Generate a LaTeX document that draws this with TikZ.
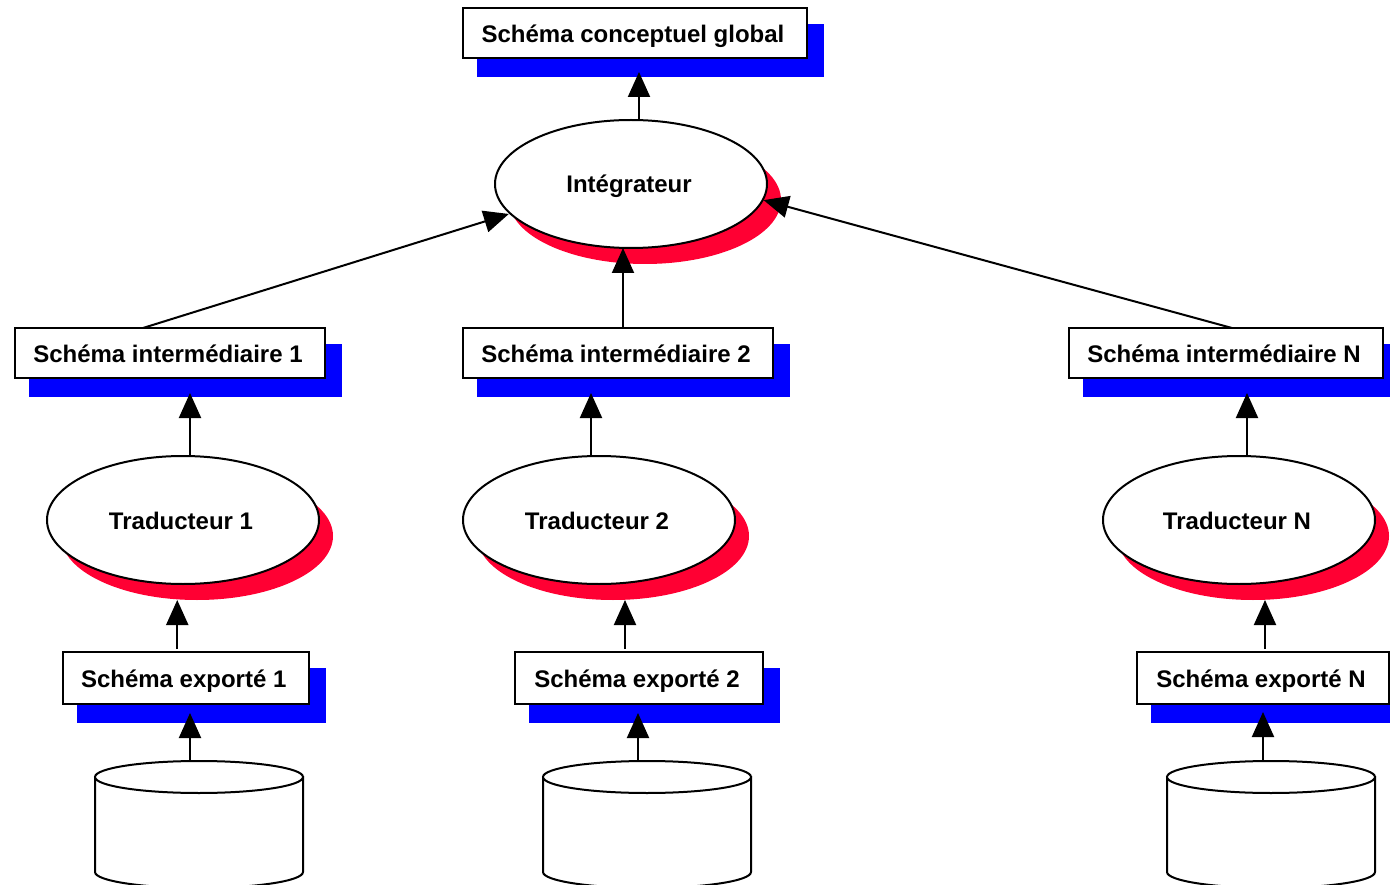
\documentclass[tikz,border=0pt]{standalone}
\usepackage{fontspec}
\setmainfont{Liberation Sans}
\usetikzlibrary{arrows.meta,shapes.geometric}
\definecolor{shadowblue}{RGB}{0,0,255}
\definecolor{shadowred}{RGB}{255,0,51}
\tikzset{
	every node/.style={outer sep=0pt},
	schema/.style={draw, fill=white, rectangle, inner sep=0pt, text height=19pt, text depth=0pt,
		font=\fontsize{24}{28}\selectfont\bfseries, execute at end node={\hspace{4pt}}},
	schema shadow/.style={fill=shadowblue, rectangle, inner sep=0pt, anchor=north west},
	process/.style={draw, fill=white, ellipse, inner sep=0pt, minimum width=272pt, minimum height=128pt,
		text height=18pt, text depth=0pt, font=\fontsize{24}{28}\selectfont\bfseries,
		execute at end node={\hspace{4pt}}},
	process shadow/.style={fill=shadowred, ellipse, inner sep=0pt, minimum width=272pt, minimum height=128pt},
	base top/.style={draw, fill=white, ellipse, inner sep=0pt, minimum width=208pt, minimum height=32pt}
}
\begin{document}
\begin{tikzpicture}[x=1pt, y=-1pt, line width=2pt, >={Triangle[length=25pt,width=22pt]}]
	
	\clip (0,0) rectangle (1390,885);
	
	\foreach \n/\x/\y/\w/\h/\l in {global/463/8/344/50/Schéma conceptuel global,
		inter-1/15/328/310/50/Schéma intermédiaire 1,
		inter-2/463/328/310/50/Schéma intermédiaire 2,
		inter-N/1069/328/314/50/Schéma intermédiaire N,
		exp-1/62.5/652/246.5/52/Schéma exporté 1,
		exp-2/515/652/248/52/Schéma exporté 2,
		exp-N/1137/652/252/52/Schéma exporté N}
	{
		\node [schema shadow, minimum width=\w+3, minimum height=\h+3] (\n-shadow) at (\x+14,\y+16) {};
		\node [schema, minimum width=\w, minimum height=\h] (\n) at (\x+\w/2,\y+\h/2) {\l};
	}
	
	\foreach \n/\x/\y/\l in {integrateur/631/184/Intégrateur,
		trad-1/183/520/Traducteur 1,
		trad-2/599/520/Traducteur 2,
		trad-N/1239/520/Traducteur N}
	{
		\node [process shadow] (\n-shadow) at (\x+14,\y+16) {};
		\node [process] (\n) at (\x,\y) {\l};
	}
	
	\foreach \n/\x in {1/199,2/647,N/1271}
	{
		\draw [fill=white] (\x-104,777) -- (\x-104,872) arc [start angle=180, end angle=360, x radius=104pt, y radius=16pt] -- (\x+104,777) -- cycle;
		\node [base top] (db-\n) at (\x,777) {};
	}
	
	\foreach \a/\dx/\sy/\b/\ty in {integrateur/8/0/global-shadow/5,
		inter-2/5/0/integrateur/0,
		trad-1/7/0/inter-1-shadow/4,
		trad-2/-8/0/inter-2-shadow/4,
		trad-N/8/0/inter-N-shadow/4,
		exp-1/-8.5/3/trad-1-shadow/0,
		exp-2/-14/3/trad-2-shadow/0,
		exp-N/2/3/trad-N-shadow/0,
		db-1/-9/0/exp-1-shadow/10,
		db-2/-9/0/exp-2-shadow/10,
		db-N/-8/0/exp-N-shadow/11}
	\draw [->] ([xshift=\dx pt, yshift=\sy pt]\a.north) coordinate (s) -- ([yshift=\ty pt]s |- \b.south);
	
	\draw [->] ([xshift=-27pt]inter-1.north) -- ([xshift=-2pt]integrateur.194);
	\draw [->] ([xshift=6pt]inter-N.north) -- ([xshift=1pt]integrateur.-7);
	
\end{tikzpicture}
\end{document}
